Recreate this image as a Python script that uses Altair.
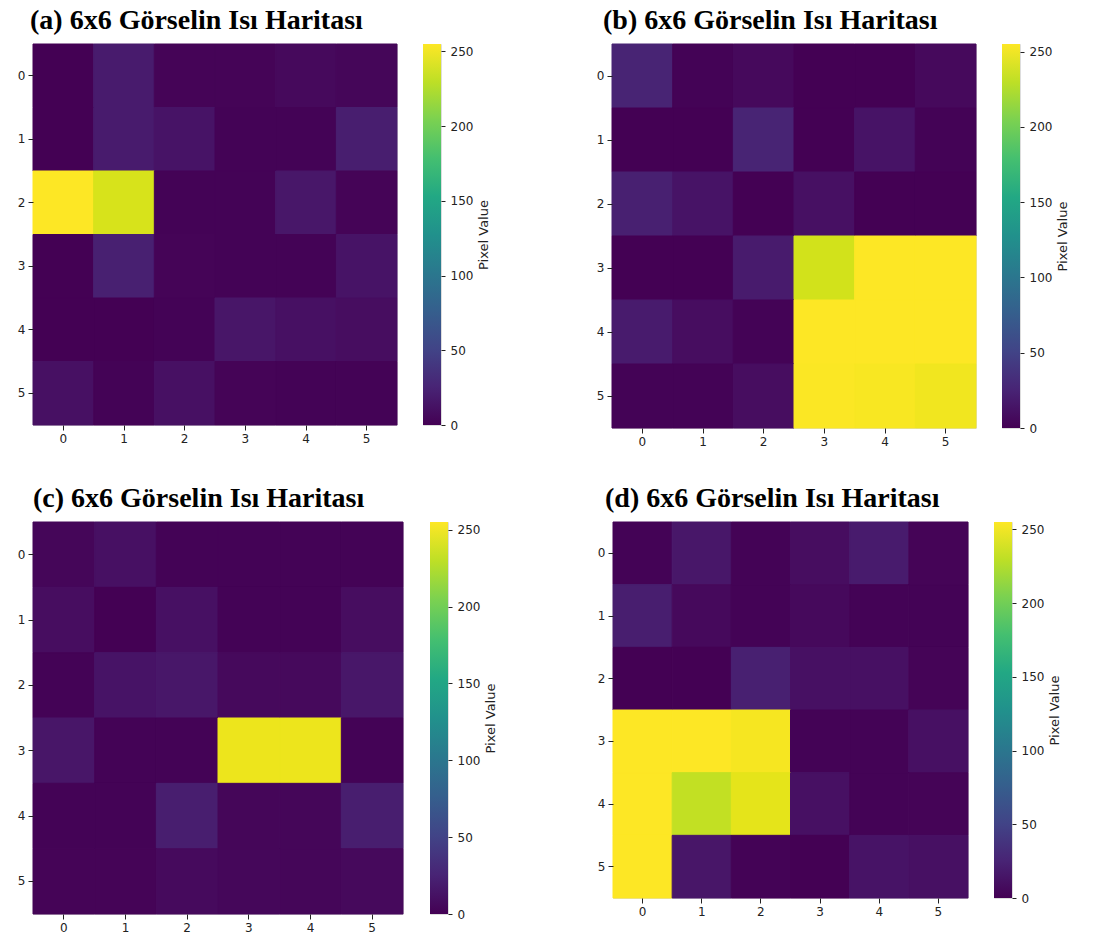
import altair as alt
import pandas as pd

rows = [0, 1, 2, 3, 4, 5]
cols = [0, 1, 2, 3, 4, 5]

values_a = [
    [0, 18, 2, 2, 5, 3],
    [0, 18, 12, 1, 1, 20],
    [255, 240, 1, 1, 15, 2],
    [0, 22, 2, 1, 1, 12],
    [0, 0, 1, 14, 10, 8],
    [10, 1, 10, 2, 1, 1],
]
values_b = [
    [25, 1, 5, 0, 0, 5],
    [0, 0, 25, 0, 12, 1],
    [22, 12, 0, 10, 0, 0],
    [0, 0, 18, 238, 255, 255],
    [18, 8, 1, 255, 255, 255],
    [1, 1, 8, 254, 253, 250],
]
values_c = [
    [3, 10, 1, 1, 1, 1],
    [8, 0, 10, 1, 1, 8],
    [1, 12, 15, 5, 5, 15],
    [14, 1, 1, 248, 248, 1],
    [1, 1, 20, 3, 3, 20],
    [2, 2, 6, 4, 3, 5],
]
values_d = [
    [1, 15, 1, 8, 18, 2],
    [20, 5, 1, 5, 1, 1],
    [0, 0, 22, 10, 10, 2],
    [255, 255, 252, 1, 1, 10],
    [255, 232, 245, 10, 1, 2],
    [255, 14, 1, 0, 12, 10],
]
titles = [
    "(a) 6x6 Görselin Isı Haritası",
    "(b) 6x6 Görselin Isı Haritası",
    "(c)  6x6 Görselin Isı Haritası",
    "(d) 6x6 Görselin Isı Haritası",
]
colorbar_range = [0, 255]
colorbar_ticks = [0, 50, 100, 150, 200, 250]
colorbar_title = "Pixel Value"
viridis_stops = ["#440154", "#482475", "#414487", "#355f8d", "#2a788e",
                 "#21918c", "#22a884", "#44bf70", "#7ad151", "#bddf26", "#fde725"]

color_scale = alt.Scale(scheme="viridis", domain=colorbar_range, nice=False)

LABEL = dict(labelFont="DejaVu Sans", labelFontSize=12, labelColor="#222",
             tickColor="#222", tickSize=5, labelPadding=3, domain=False, grid=False)


def heatmap(vals, title, w, h, dx):
    df = pd.DataFrame(
        [{"row": r, "col": c, "value": vals[r][c]} for r in rows for c in cols]
    )
    band = alt.Scale(paddingInner=0, paddingOuter=0)
    return (
        alt.Chart(
            df,
            title=alt.TitleParams(
                title,
                anchor="start",
                frame="group",
                dx=dx,
                fontSize=28,
                font="Liberation Serif",
                fontWeight="bold",
                color="black",
                offset=9,
            ),
        )
        .mark_rect(strokeWidth=1)
        .encode(
            x=alt.X("col:O", title=None, scale=band, axis=alt.Axis(labelAngle=0, **LABEL)),
            y=alt.Y("row:O", title=None, scale=band, axis=alt.Axis(**LABEL)),
            color=alt.Color("value:Q", scale=color_scale, legend=None),
            stroke=alt.Stroke("value:Q", scale=color_scale, legend=None),
        )
        .properties(width=w, height=h)
    )


def colorbar(h):
    df = pd.DataFrame({"lo": [colorbar_range[0]], "hi": [colorbar_range[1]]})
    n = len(viridis_stops) - 1
    grad = alt.Gradient(
        gradient="linear",
        stops=[alt.GradientStop(color=c, offset=i / n) for i, c in enumerate(viridis_stops)],
        x1=0, x2=0, y1=1, y2=0,
    )
    return (
        alt.Chart(df)
        .mark_rect(fill=grad)
        .encode(
            y=alt.Y(
                "lo:Q",
                scale=alt.Scale(domain=colorbar_range, nice=False, zero=False),
                axis=alt.Axis(
                    orient="right",
                    values=colorbar_ticks,
                    title=colorbar_title,
                    titleAngle=270,
                    titleFont="DejaVu Sans",
                    titleFontSize=13,
                    titleFontWeight="normal",
                    titleColor="#222",
                    titlePadding=18,
                    **{**LABEL, "tickSize": 4, "labelPadding": 5},
                ),
            ),
            y2="hi:Q",
        )
        .properties(width=18, height=h)
    )


pa = heatmap(values_a, titles[0], 364, 381, -3)
pb = heatmap(values_b, titles[1], 364, 384, -9)
pc = heatmap(values_c, titles[2], 370, 392, 0)
pd_ = heatmap(values_d, titles[3], 355, 376, -8)

ga = alt.hconcat(pa, colorbar(381), spacing=24)
gb = alt.hconcat(pb, colorbar(384), spacing=24)
gc = alt.hconcat(pc, colorbar(392), spacing=25)
gd = alt.hconcat(pd_, colorbar(376), spacing=24)

row1 = alt.hconcat(ga, gb, spacing=103)
row2 = alt.hconcat(gc, gd, spacing=97)

chart = (
    alt.vconcat(row1, row2, spacing=36)
    .properties(padding={"left": 8, "top": -2, "right": 5, "bottom": 5})
    .configure_view(stroke="#222", strokeWidth=1)
    .configure(background="white")
)

chart.save("out.html", embed_options={"renderer": "svg", "actions": False})
